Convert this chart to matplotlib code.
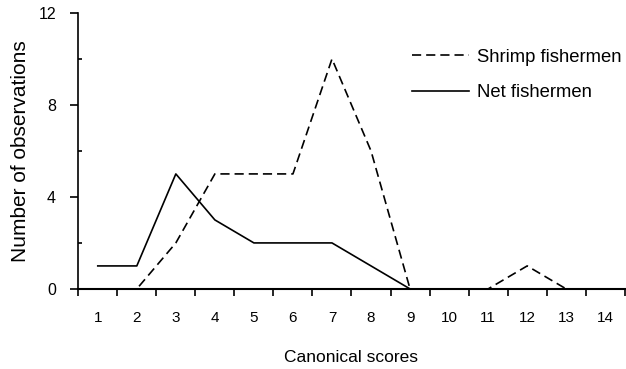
import matplotlib
matplotlib.use('Agg')
import matplotlib.pyplot as plt

# data
scores = [1, 2, 3, 4, 5, 6, 7, 8, 9, 10, 11, 12, 13, 14]
shrimp = [0, 0, 2, 5, 5, 5, 10, 6, 0, 0, 0, 1, 0, 0]
net = [1, 1, 5, 3, 2, 2, 2, 1, 0]
net_x = scores[:len(net)]

plt.rcParams['font.family'] = ['Liberation Sans', 'DejaVu Sans']

fig = plt.figure(figsize=(6.26, 3.69), dpi=100)
ax = fig.add_axes([0.125, 0.217, 0.873, 0.748])

ax.plot(scores, shrimp, color='black', linestyle=(0, (5.5, 3)), linewidth=1.2,
        label='Shrimp fishermen', clip_on=False, zorder=3)
ax.plot(net_x, net, color='black', linestyle='-', linewidth=1.2,
        label='Net fishermen', clip_on=False, zorder=3)

ax.set_xlim(0.5, 14.5)
ax.set_ylim(0, 12)

# boundaries get tick marks, category centres get labels
ax.set_xticks([s - 0.5 for s in scores] + [14.5])
ax.set_xticklabels([])
ax.set_xticks(scores, minor=True)
ax.set_xticklabels([str(s) for s in scores], minor=True)
ax.tick_params(axis='x', which='major', length=5, width=1.2, direction='out')
ax.tick_params(axis='x', which='minor', length=0, pad=16, labelsize=11)

ax.set_yticks([0, 4, 8, 12])
ax.set_yticks([2, 6, 10], minor=True)
ax.tick_params(axis='y', which='major', length=6, width=1.2, pad=10, labelsize=11.5)
ax.tick_params(axis='y', which='minor', length=3, width=1.2, direction='in')

for side in ['top', 'right']:
    ax.spines[side].set_visible(False)
ax.spines['left'].set_linewidth(1.2)
ax.spines['bottom'].set_linewidth(1.5)

ax.set_xlabel('Canonical scores', fontsize=12.5, labelpad=18)
ax.set_ylabel('Number of observations', fontsize=15, labelpad=6)

ax.legend(loc='upper left', bbox_to_anchor=(0.58, 0.93), frameon=False,
          fontsize=13.3, handlelength=3.1, handletextpad=0.45, labelspacing=1.0)

plt.savefig('out.png', dpi=100)
